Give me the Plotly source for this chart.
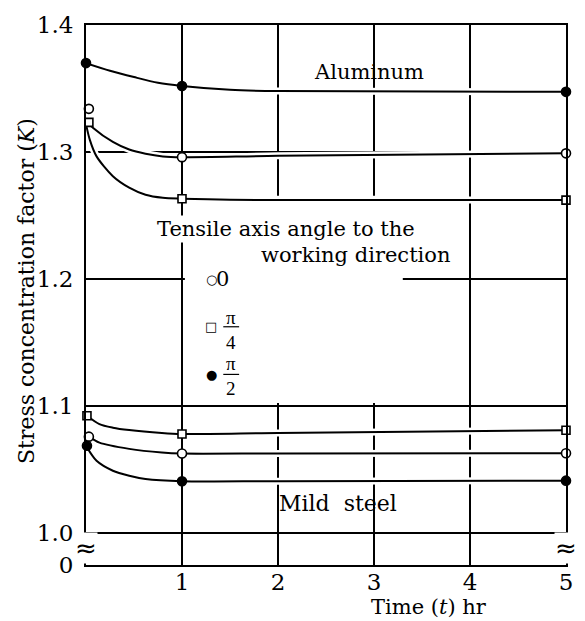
import plotly.graph_objects as go

# ---- data ----
marker_t = [0.0, 1.0, 5.0]

# Aluminum
al_half_pi_marker = [1.370, 1.352, 1.3474]
al_zero_marker = [1.334, 1.296, 1.299]
al_quarter_pi_marker = [1.3234, 1.2633, 1.2622]

al_half_pi_curve_t = [0.0, 0.25, 0.5, 0.75, 1.0, 1.5, 2.0, 5.0]
al_half_pi_curve = [1.370, 1.364, 1.359, 1.3545, 1.352, 1.349, 1.348, 1.3474]
al_zero_curve_t = [0.03, 0.075, 0.28, 0.45, 0.62, 0.80, 1.0, 2.0, 5.0]
al_zero_curve = [1.3225, 1.319, 1.308, 1.302, 1.2987, 1.2966, 1.296, 1.297, 1.299]
al_quarter_pi_curve_t = [0.0, 0.04, 0.11, 0.28, 0.45, 0.62, 0.80, 1.0, 1.5, 2.0, 5.0]
al_quarter_pi_curve = [1.322, 1.3096, 1.2966, 1.281, 1.272, 1.2664, 1.264, 1.2633, 1.2625, 1.2622, 1.2622]

# Mild steel
ms_quarter_pi_marker = [1.0925, 1.0781, 1.081]
ms_zero_marker = [1.076, 1.0627, 1.063]
ms_half_pi_marker = [1.0688, 1.0409, 1.0414]

ms_quarter_pi_curve_t = [0.01, 0.14, 0.28, 0.45, 0.79, 1.0, 2.0, 5.0]
ms_quarter_pi_curve = [1.0925, 1.0859, 1.0831, 1.0812, 1.0789, 1.0781, 1.0789, 1.081]
ms_zero_curve_t = [0.03, 0.14, 0.45, 0.79, 1.0, 2.0, 5.0]
ms_zero_curve = [1.076, 1.0713, 1.0664, 1.0635, 1.0627, 1.0628, 1.063]
ms_half_pi_curve_t = [0.0, 0.11, 0.28, 0.45, 0.62, 1.0, 2.0, 5.0]
ms_half_pi_curve = [1.0688, 1.057, 1.0492, 1.0453, 1.0427, 1.0409, 1.041, 1.0414]

y_tick_vals = [0.975, 1.0, 1.1, 1.2, 1.3, 1.4]
y_tick_text = ["0", "1.0", "1.1", "1.2", "1.3", "1.4"]
x_tick_vals = [1, 2, 3, 4, 5]
x_tick_text = ["1", "2", "3", "4", "5"]

FONT = "DejaVu Serif"
PI_FONT = "Liberation Serif"

curves = [
    (al_half_pi_curve_t, al_half_pi_curve),
    (al_zero_curve_t, al_zero_curve),
    (al_quarter_pi_curve_t, al_quarter_pi_curve),
    (ms_quarter_pi_curve_t, ms_quarter_pi_curve),
    (ms_zero_curve_t, ms_zero_curve),
    (ms_half_pi_curve_t, ms_half_pi_curve),
]

markers = [
    (al_half_pi_marker, "circle", "black", [0.0, 1.0, 5.0]),
    (al_zero_marker, "circle", "white", [0.03, 1.0, 5.0]),
    (al_quarter_pi_marker, "square", "white", [0.03, 1.0, 5.0]),
    (ms_quarter_pi_marker, "square", "white", [0.01, 1.0, 5.0]),
    (ms_zero_marker, "circle", "white", [0.03, 1.0, 5.0]),
    (ms_half_pi_marker, "circle", "black", [0.01, 1.0, 5.0]),
]

fig = go.Figure()

# white halos (cut the grid where curves cross)
for t, k in curves:
    fig.add_trace(go.Scatter(x=t, y=k, mode="lines", line=dict(color="white", width=7, shape="spline", smoothing=0.8),
                             hoverinfo="skip", showlegend=False, cliponaxis=False))
for t, k in curves:
    fig.add_trace(go.Scatter(x=t, y=k, mode="lines", line=dict(color="black", width=2, shape="spline", smoothing=0.8),
                             showlegend=False, cliponaxis=False))
for k, sym, fill, tt in markers:
    fig.add_trace(go.Scatter(x=tt, y=k, mode="markers",
                             marker=dict(symbol=sym, size=9 if sym == "circle" else 8, color=fill,
                                         line=dict(color="black", width=1.6)),
                             showlegend=False, cliponaxis=False))

# blank area around the legend text (grid interrupted)
fig.add_shape(type="rect", xref="x", yref="y", x0=1.03, x1=3.3, y0=1.1025, y1=1.2656,
              fillcolor="white", line_width=0, layer="between")

ann_font = dict(family=FONT, size=21, color="black")
annotations = [
    dict(x=2.95, y=1.3633, text="Aluminum", font=ann_font),
    dict(x=2.08, y=1.2398, text="Tensile axis angle to the", font=ann_font, bgcolor="white"),
    dict(x=2.81, y=1.2188, text="working direction", font=ann_font, bgcolor="white"),
    dict(x=2.62, y=1.0234, text="Mild\u00a0\u00a0steel", font=dict(family=FONT, size=22, color="black")),
    # legend
    dict(x=1.307, y=1.2, text="○", font=dict(family="DejaVu Sans", size=13, color="black")),
    dict(x=1.42, y=1.2, text="0", font=dict(family=FONT, size=21, color="black")),
    dict(x=1.307, y=1.1625, text="□", font=dict(family="DejaVu Sans", size=13, color="black")),
    dict(x=1.512, y=1.1598, text="π<br>4", font=dict(family=PI_FONT, size=19, color="black")),
    dict(x=1.307, y=1.125, text="●", font=dict(family="DejaVu Sans", size=13, color="black")),
    dict(x=1.512, y=1.1234, text="π<br>2", font=dict(family=PI_FONT, size=19, color="black")),
    # axis breaks
    dict(x=0, y=0.9883, text="≈", font=dict(family="DejaVu Sans", size=26, color="black"), bgcolor="white", borderpad=0),
    dict(x=5, y=0.9883, text="≈", font=dict(family="DejaVu Sans", size=26, color="black"), bgcolor="white", borderpad=0),
]
for a in annotations:
    fig.add_annotation(xref="x", yref="y", showarrow=False, xanchor="center", yanchor="middle", **a)

# fraction bars
for yb in [1.1625, 1.125]:
    fig.add_shape(type="line", xref="x", yref="y", x0=1.43, x1=1.595, y0=yb, y1=yb,
                  line=dict(color="black", width=1.2), layer="above")

# axis titles
fig.add_annotation(xref="paper", yref="paper", x=-0.1255, y=0.507, showarrow=False,
                   text="Stress concentration factor (<i>K</i>)", textangle=-90,
                   font=dict(family=FONT, size=22, color="black"), xanchor="center", yanchor="middle")
fig.add_annotation(xref="paper", yref="paper", x=0.714, y=-0.0772, showarrow=False,
                   text="Time (<i>t</i>) hr",
                   font=dict(family=FONT, size=21, color="black"), xanchor="center", yanchor="middle")

fig.update_xaxes(range=[0, 5], tickvals=x_tick_vals, ticktext=x_tick_text,
                 showgrid=True, gridcolor="black", gridwidth=1.6,
                 showline=True, linecolor="black", linewidth=2, mirror=True,
                 ticks="", ticklabelstandoff=-5, zeroline=False,
                 tickfont=dict(family=FONT, size=23, color="black"))
fig.update_yaxes(range=[0.975, 1.4], tickvals=y_tick_vals, ticktext=y_tick_text,
                 showgrid=True, gridcolor="black", gridwidth=1.6,
                 showline=True, linecolor="black", linewidth=2, mirror=True,
                 ticks="", ticklabelstandoff=6, zeroline=False,
                 tickfont=dict(family=FONT, size=23, color="black"))

fig.update_layout(width=585, height=621, margin=dict(l=86, r=13, t=21, b=56),
                  paper_bgcolor="white", plot_bgcolor="white", showlegend=False)

fig.write_html("out.html")
